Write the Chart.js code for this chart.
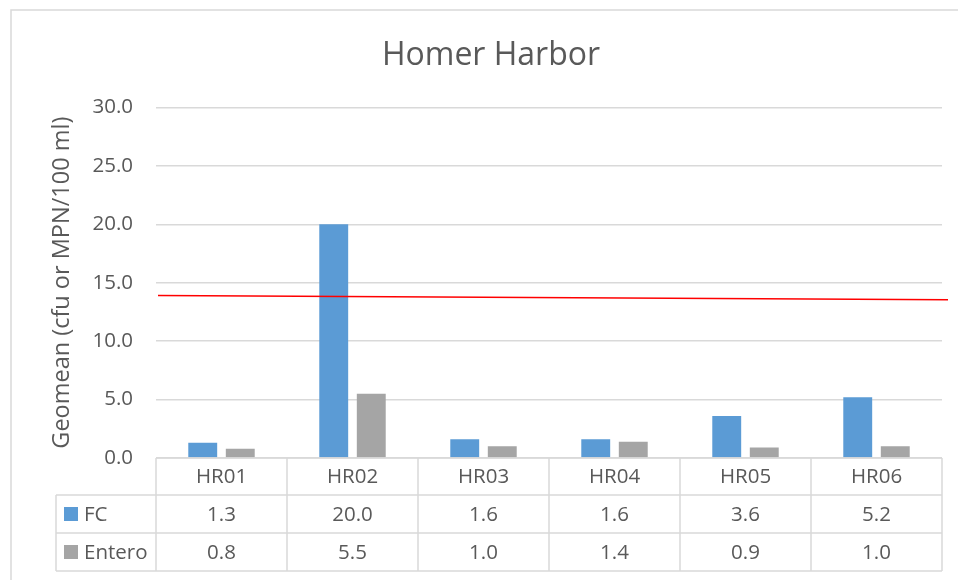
<!DOCTYPE html>
<html>
<head>
<meta charset="utf-8">
<script src="https://cdn.jsdelivr.net/npm/chart.js@4/dist/chart.umd.min.js"></script>
<style>
  body { margin: 0; background: #fff; }
  canvas { display: block; }
</style>
</head>
<body>
<canvas id="chart" width="958" height="580"></canvas>
<script>
const sites = ["HR01", "HR02", "HR03", "HR04", "HR05", "HR06"];
const fcValues = [1.3, 20.0, 1.6, 1.6, 3.6, 5.2];
const enteroValues = [0.8, 5.5, 1.0, 1.4, 0.9, 1.0];
const seriesNames = ["FC", "Entero"];
const seriesColors = ["#5b9bd5", "#a5a5a5"];
// red reference line, value at left and right end of the plot
const redLine = [13.9, 13.55];

const textColor = "#595959";
const gridColor = "#d9d9d9";
const fontFamily = "'Open Sans', sans-serif";

// outer frame + red line + data table under the plot
const tablePlugin = {
  id: "tablePlugin",
  beforeDraw(chart) {
    const ctx = chart.ctx;
    ctx.save();
    ctx.strokeStyle = gridColor;
    ctx.lineWidth = 1.5;
    ctx.strokeRect(11, 10, 1000, 1000);
    ctx.restore();
  },
  afterDatasetsDraw(chart) {
    const { ctx, chartArea, scales } = chart;
    const x = scales.x, y = scales.y;

    // red line
    ctx.save();
    ctx.strokeStyle = "#ff0000";
    ctx.lineWidth = 1.5;
    ctx.beginPath();
    ctx.moveTo(chartArea.left + 2, y.getPixelForValue(redLine[0]));
    ctx.lineTo(chartArea.right + 6, y.getPixelForValue(redLine[1]));
    ctx.stroke();
    ctx.restore();

    // table
    const colW = x.getPixelForValue(1) - x.getPixelForValue(0);
    const top = chartArea.bottom;
    const rows = [top, top + 37, top + 75, top + 113];
    const tableLeft = 56;
    const left = chartArea.left, right = chartArea.right;

    ctx.save();
    ctx.strokeStyle = gridColor;
    ctx.lineWidth = 1.5;
    ctx.beginPath();
    ctx.moveTo(left, rows[0]); ctx.lineTo(right, rows[0]);
    for (let r = 1; r < rows.length; r++) {
      ctx.moveTo(tableLeft, rows[r]); ctx.lineTo(right, rows[r]);
    }
    for (let i = 0; i <= sites.length; i++) {
      const cx = x.getPixelForValue(i) - colW / 2;
      ctx.moveTo(cx, rows[0]); ctx.lineTo(cx, rows[3]);
    }
    ctx.moveTo(tableLeft, rows[1]); ctx.lineTo(tableLeft, rows[3]);
    ctx.stroke();

    ctx.fillStyle = textColor;
    ctx.font = "20.5px " + fontFamily;
    ctx.textAlign = "center";
    ctx.textBaseline = "middle";
    const allValues = [fcValues, enteroValues];
    sites.forEach((s, i) => {
      const cx = x.getPixelForValue(i);
      ctx.fillText(s, cx, (rows[0] + rows[1]) / 2 + 1);
      allValues.forEach((vals, k) => {
        ctx.fillText(vals[i].toFixed(1), cx, (rows[k + 1] + rows[k + 2]) / 2 + 1);
      });
    });

    // legend keys in the table
    ctx.textAlign = "left";
    seriesNames.forEach((name, k) => {
      const my = (rows[k + 1] + rows[k + 2]) / 2;
      ctx.fillStyle = seriesColors[k];
      ctx.fillRect(64, my - 7, 14, 14);
      ctx.fillStyle = textColor;
      ctx.fillText(name, 84, my + 1);
    });
    ctx.restore();
  }
};

new Chart(document.getElementById("chart"), {
  type: "bar",
  data: {
    labels: sites,
    datasets: [
      { label: seriesNames[0], data: fcValues, backgroundColor: seriesColors[0] },
      { label: seriesNames[1], data: enteroValues, backgroundColor: seriesColors[1] },
    ],
  },
  options: {
    responsive: false,
    animation: false,
    categoryPercentage: 0.573,
    barPercentage: 0.77,
    layout: { padding: { left: 40, right: 16, top: 0, bottom: 122 } },
    plugins: {
      legend: { display: false },
      tooltip: { enabled: false },
      title: {
        display: true,
        text: "Homer Harbor",
        color: textColor,
        font: { family: fontFamily, size: 32, weight: "normal" },
        padding: { top: 37, bottom: 32 },
      },
    },
    scales: {
      x: { display: false },
      y: {
        min: 0,
        max: 30,
        afterFit(scale) { scale.width = 116; },
        border: { display: false },
        grid: { color: gridColor, lineWidth: 1.5, drawTicks: false },
        ticks: {
          stepSize: 5,
          padding: 23,
          color: textColor,
          font: { family: fontFamily, size: 20.5 },
          callback: (v) => Number(v).toFixed(1),
        },
        title: {
          display: true,
          text: "Geomean (cfu or MPN/100 ml)",
          color: textColor,
          font: { family: fontFamily, size: 23.5 },
          padding: { top: 8, bottom: 0 },
        },
      },
    },
  },
  plugins: [tablePlugin],
});
</script>
</body>
</html>
